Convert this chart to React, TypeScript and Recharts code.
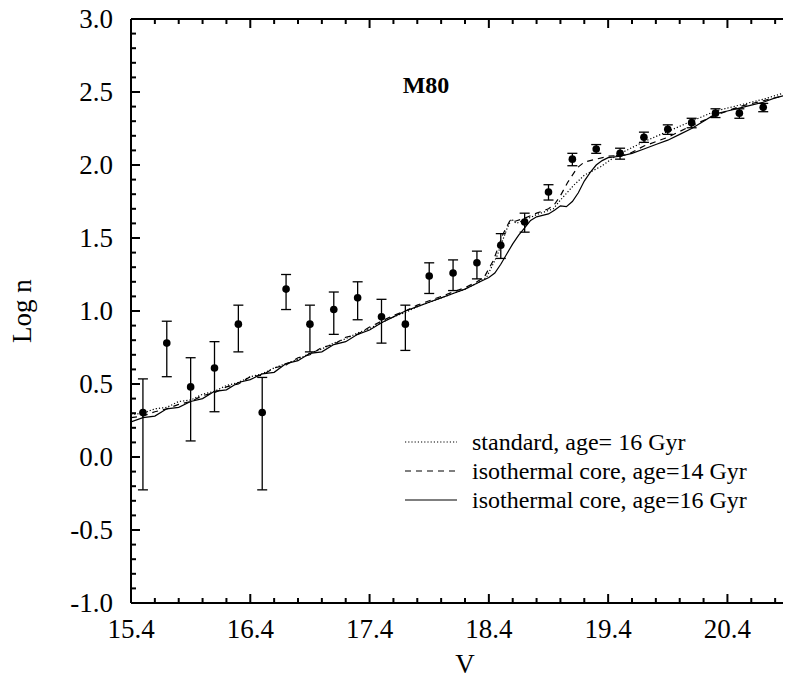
import React from 'react'
import { ComposedChart, Line, Scatter, ErrorBar, XAxis, YAxis, ReferenceLine } from 'recharts'

// model luminosity functions for M80 (V vs log n)
const standard16 = [
  { v: 15.4, y: 0.29 }, { v: 15.5, y: 0.30 }, { v: 15.6, y: 0.33 }, { v: 15.7, y: 0.34 }, { v: 15.8, y: 0.38 },
  { v: 15.9, y: 0.39 }, { v: 16.0, y: 0.43 }, { v: 16.1, y: 0.45 }, { v: 16.2, y: 0.49 }, { v: 16.3, y: 0.51 },
  { v: 16.4, y: 0.55 }, { v: 16.5, y: 0.57 }, { v: 16.6, y: 0.61 }, { v: 16.7, y: 0.64 }, { v: 16.8, y: 0.67 },
  { v: 16.9, y: 0.71 }, { v: 17.0, y: 0.74 }, { v: 17.1, y: 0.78 }, { v: 17.2, y: 0.81 }, { v: 17.3, y: 0.85 },
  { v: 17.4, y: 0.88 }, { v: 17.5, y: 0.92 }, { v: 17.6, y: 0.96 }, { v: 17.7, y: 0.99 }, { v: 17.8, y: 1.03 },
  { v: 17.9, y: 1.06 }, { v: 18.0, y: 1.09 }, { v: 18.1, y: 1.12 }, { v: 18.2, y: 1.15 }, { v: 18.3, y: 1.19 },
  { v: 18.38, y: 1.23 }, { v: 18.47, y: 1.38 }, { v: 18.55, y: 1.56 }, { v: 18.59, y: 1.63 }, { v: 18.63, y: 1.60 },
  { v: 18.72, y: 1.63 }, { v: 18.8, y: 1.66 }, { v: 18.94, y: 1.70 }, { v: 19.0, y: 1.76 }, { v: 19.11, y: 1.86 },
  { v: 19.2, y: 1.93 }, { v: 19.34, y: 1.99 }, { v: 19.48, y: 2.07 }, { v: 19.7, y: 2.16 }, { v: 19.9, y: 2.23 },
  { v: 20.1, y: 2.30 }, { v: 20.3, y: 2.37 }, { v: 20.5, y: 2.41 }, { v: 20.7, y: 2.45 }, { v: 20.9, y: 2.50 },
  { v: 21.0, y: 2.52 },
]

const isoCore14 = [
  { v: 15.4, y: 0.27 }, { v: 15.5, y: 0.28 }, { v: 15.6, y: 0.31 }, { v: 15.7, y: 0.33 }, { v: 15.8, y: 0.36 },
  { v: 15.9, y: 0.38 }, { v: 16.0, y: 0.42 }, { v: 16.1, y: 0.44 }, { v: 16.2, y: 0.48 }, { v: 16.3, y: 0.50 },
  { v: 16.4, y: 0.55 }, { v: 16.5, y: 0.56 }, { v: 16.6, y: 0.61 }, { v: 16.7, y: 0.63 }, { v: 16.8, y: 0.68 },
  { v: 16.9, y: 0.70 }, { v: 17.0, y: 0.75 }, { v: 17.1, y: 0.77 }, { v: 17.2, y: 0.82 }, { v: 17.3, y: 0.84 },
  { v: 17.4, y: 0.89 }, { v: 17.5, y: 0.93 }, { v: 17.6, y: 0.97 }, { v: 17.7, y: 1.00 }, { v: 17.8, y: 1.04 },
  { v: 17.9, y: 1.07 }, { v: 18.0, y: 1.10 }, { v: 18.1, y: 1.13 }, { v: 18.2, y: 1.16 }, { v: 18.3, y: 1.20 },
  { v: 18.36, y: 1.23 }, { v: 18.44, y: 1.35 }, { v: 18.52, y: 1.53 }, { v: 18.58, y: 1.625 }, { v: 18.62, y: 1.615 },
  { v: 18.7, y: 1.635 }, { v: 18.8, y: 1.67 }, { v: 18.9, y: 1.70 }, { v: 18.95, y: 1.73 }, { v: 19.0, y: 1.79 },
  { v: 19.06, y: 1.88 }, { v: 19.14, y: 1.98 }, { v: 19.2, y: 2.02 }, { v: 19.3, y: 2.04 }, { v: 19.4, y: 2.06 },
  { v: 19.56, y: 2.07 }, { v: 19.7, y: 2.13 }, { v: 19.9, y: 2.19 }, { v: 20.1, y: 2.27 }, { v: 20.3, y: 2.34 },
  { v: 20.5, y: 2.40 }, { v: 20.7, y: 2.44 }, { v: 20.9, y: 2.48 }, { v: 21.0, y: 2.50 },
]

const isoCore16 = [
  { v: 15.4, y: 0.24 }, { v: 15.5, y: 0.27 }, { v: 15.6, y: 0.28 }, { v: 15.7, y: 0.33 }, { v: 15.8, y: 0.34 },
  { v: 15.9, y: 0.38 }, { v: 16.0, y: 0.40 }, { v: 16.1, y: 0.45 }, { v: 16.2, y: 0.46 }, { v: 16.3, y: 0.51 },
  { v: 16.4, y: 0.53 }, { v: 16.5, y: 0.57 }, { v: 16.6, y: 0.58 }, { v: 16.7, y: 0.64 }, { v: 16.8, y: 0.66 },
  { v: 16.9, y: 0.71 }, { v: 17.0, y: 0.72 }, { v: 17.1, y: 0.77 }, { v: 17.2, y: 0.79 }, { v: 17.3, y: 0.84 },
  { v: 17.4, y: 0.87 }, { v: 17.5, y: 0.92 }, { v: 17.6, y: 0.96 }, { v: 17.7, y: 1.00 }, { v: 17.8, y: 1.03 },
  { v: 17.9, y: 1.06 }, { v: 18.0, y: 1.09 }, { v: 18.1, y: 1.12 }, { v: 18.2, y: 1.15 }, { v: 18.3, y: 1.19 },
  { v: 18.4, y: 1.23 }, { v: 18.45, y: 1.26 }, { v: 18.5, y: 1.32 }, { v: 18.55, y: 1.39 }, { v: 18.6, y: 1.46 },
  { v: 18.65, y: 1.52 }, { v: 18.7, y: 1.57 }, { v: 18.75, y: 1.62 }, { v: 18.8, y: 1.645 }, { v: 18.85, y: 1.655 },
  { v: 18.9, y: 1.665 }, { v: 18.95, y: 1.69 }, { v: 19.0, y: 1.72 }, { v: 19.05, y: 1.715 }, { v: 19.1, y: 1.75 },
  { v: 19.15, y: 1.81 }, { v: 19.2, y: 1.89 }, { v: 19.25, y: 1.95 }, { v: 19.3, y: 2.00 }, { v: 19.35, y: 2.03 },
  { v: 19.4, y: 2.05 }, { v: 19.5, y: 2.06 }, { v: 19.6, y: 2.08 }, { v: 19.7, y: 2.11 }, { v: 19.8, y: 2.14 },
  { v: 19.9, y: 2.17 }, { v: 20.0, y: 2.21 }, { v: 20.1, y: 2.25 }, { v: 20.2, y: 2.30 }, { v: 20.3, y: 2.35 },
  { v: 20.4, y: 2.37 }, { v: 20.5, y: 2.39 }, { v: 20.6, y: 2.41 }, { v: 20.7, y: 2.43 }, { v: 20.8, y: 2.46 },
  { v: 20.9, y: 2.48 }, { v: 21.0, y: 2.50 },
]

// observed counts, err = [below, above]
const observed = [
  { v: 15.5, y: 0.305, err: [0.53, 0.23] },
  { v: 15.7, y: 0.78, err: [0.23, 0.15] },
  { v: 15.9, y: 0.48, err: [0.37, 0.2] },
  { v: 16.1, y: 0.61, err: [0.3, 0.18] },
  { v: 16.3, y: 0.91, err: [0.19, 0.13] },
  { v: 16.5, y: 0.305, err: [0.53, 0.24] },
  { v: 16.7, y: 1.15, err: [0.14, 0.1] },
  { v: 16.9, y: 0.91, err: [0.19, 0.13] },
  { v: 17.1, y: 1.01, err: [0.17, 0.12] },
  { v: 17.3, y: 1.09, err: [0.15, 0.11] },
  { v: 17.5, y: 0.96, err: [0.18, 0.12] },
  { v: 17.7, y: 0.91, err: [0.18, 0.13] },
  { v: 17.9, y: 1.24, err: [0.12, 0.09] },
  { v: 18.1, y: 1.26, err: [0.12, 0.09] },
  { v: 18.3, y: 1.33, err: [0.11, 0.08] },
  { v: 18.5, y: 1.45, err: [0.09, 0.08] },
  { v: 18.7, y: 1.61, err: [0.07, 0.06] },
  { v: 18.9, y: 1.815, err: [0.055, 0.05] },
  { v: 19.1, y: 2.04, err: [0.045, 0.04] },
  { v: 19.3, y: 2.11, err: [0.03, 0.03] },
  { v: 19.5, y: 2.08, err: [0.04, 0.035] },
  { v: 19.7, y: 2.19, err: [0.035, 0.035] },
  { v: 19.9, y: 2.245, err: [0.035, 0.03] },
  { v: 20.1, y: 2.29, err: [0.035, 0.03] },
  { v: 20.3, y: 2.355, err: [0.03, 0.03] },
  { v: 20.5, y: 2.355, err: [0.035, 0.03] },
  { v: 20.7, y: 2.395, err: [0.03, 0.027] },
]

const xTicks = [
  15.4, 15.6, 15.8, 16.0, 16.2, 16.4, 16.6, 16.8, 17.0, 17.2, 17.4, 17.6, 17.8, 18.0, 18.2,
  18.4, 18.6, 18.8, 19.0, 19.2, 19.4, 19.6, 19.8, 20.0, 20.2, 20.4, 20.6, 20.8, 21.0,
]
const xLabels = [15.4, 16.4, 17.4, 18.4, 19.4, 20.4]

const yTicks = [
  -1.0, -0.9, -0.8, -0.7, -0.6, -0.5, -0.4, -0.3, -0.2, -0.1,
  0.0, 0.1, 0.2, 0.3, 0.4, 0.5, 0.6, 0.7, 0.8, 0.9,
  1.0, 1.1, 1.2, 1.3, 1.4, 1.5, 1.6, 1.7, 1.8, 1.9,
  2.0, 2.1, 2.2, 2.3, 2.4, 2.5, 2.6, 2.7, 2.8, 2.9, 3.0,
]
const yLabels = [-1.0, -0.5, 0.0, 0.5, 1.0, 1.5, 2.0, 2.5, 3.0]

const legendItems = [
  { label: 'standard, age= 16 Gyr', dash: '1.2 2' },
  { label: 'isothermal core, age=14 Gyr', dash: '6 5' },
  { label: 'isothermal core, age=16 Gyr', dash: undefined },
]

const W = 800
const H = 669
const TOP = 11
const RIGHT = 9
const LEFT = 123
const XH = 74
const PLOT_LEFT = LEFT
const PLOT_RIGHT = W - RIGHT
const PLOT_TOP = TOP
const PLOT_BOTTOM = H - XH

const FONT = '"Liberation Serif", "DejaVu Serif", serif'

const near = (v: number, list: number[]) => list.some((m) => Math.abs(m - v) < 1e-6)

function XTick(props: any) {
  const { x, payload } = props
  const major = near(payload.value, xLabels)
  const len = major ? 9 : 5
  return (
    <g>
      <line x1={x} x2={x} y1={PLOT_BOTTOM} y2={PLOT_BOTTOM - len} stroke="#000" strokeWidth={2} />
      <line x1={x} x2={x} y1={PLOT_TOP} y2={PLOT_TOP + len} stroke="#000" strokeWidth={2} />
      {major && (
        <text x={x} y={PLOT_BOTTOM + 35} textAnchor="middle" fontSize={27} fontFamily={FONT} fill="#000">
          {payload.value.toFixed(1)}
        </text>
      )}
    </g>
  )
}

function YTick(props: any) {
  const { y, payload } = props
  const major = near(payload.value, yLabels)
  const len = major ? 9 : 5
  return (
    <g>
      <line x1={PLOT_LEFT} x2={PLOT_LEFT + len} y1={y} y2={y} stroke="#000" strokeWidth={2} />
      <line x1={PLOT_RIGHT} x2={PLOT_RIGHT - len} y1={y} y2={y} stroke="#000" strokeWidth={2} />
      {major && (
        <text x={PLOT_LEFT - 18} y={y + 9} textAnchor="end" fontSize={27} fontFamily={FONT} fill="#000">
          {payload.value.toFixed(1)}
        </text>
      )}
    </g>
  )
}

const Dot = (p: any) => <circle cx={p.cx} cy={p.cy} r={3.8} fill="#000" />

export default function App() {
  return (
    <div style={{ width: 783, height: H, overflow: 'hidden' }}>
      <ComposedChart width={W} height={H} margin={{ top: TOP, right: RIGHT, bottom: 0, left: 0 }}
        style={{ overflow: 'visible' }}>
        <XAxis
          dataKey="v"
          type="number"
          domain={[15.4, 21.0]}
          ticks={xTicks}
          interval={0}
          allowDataOverflow
          height={XH}
          tickLine={false}
          axisLine={{ stroke: '#000', strokeWidth: 2 }}
          tick={(p: any) => <XTick {...p} />}
        />
        <YAxis
          type="number"
          domain={[-1, 3]}
          ticks={yTicks}
          interval={0}
          allowDataOverflow
          width={LEFT}
          tickLine={false}
          axisLine={{ stroke: '#000', strokeWidth: 2 }}
          tick={(p: any) => <YTick {...p} />}
        />
        <ReferenceLine y={3} stroke="#000" strokeWidth={2} ifOverflow="visible" />
        <ReferenceLine x={21} stroke="#000" strokeWidth={2} ifOverflow="visible" />

        <Line data={standard16} dataKey="y" type="linear" dot={false} stroke="#000" strokeWidth={1.2}
          strokeDasharray="1.2 2" isAnimationActive={false} />
        <Line data={isoCore14} dataKey="y" type="linear" dot={false} stroke="#000" strokeWidth={1.2}
          strokeDasharray="6 5" isAnimationActive={false} />
        <Line data={isoCore16} dataKey="y" type="linear" dot={false} stroke="#000" strokeWidth={1.2}
          isAnimationActive={false} />

        <Scatter data={observed} dataKey="y" shape={Dot} isAnimationActive={false}>
          <ErrorBar dataKey="err" direction="y" width={5} stroke="#000" strokeWidth={1.3} />
        </Scatter>

        <g transform="translate(397, 422)">
          {legendItems.map((it, i) => {
            const cy = 12 + i * 29
            return (
              <g key={it.label}>
                <line x1={0} x2={52} y1={cy} y2={cy} stroke="#000" strokeWidth={1.2} strokeDasharray={it.dash} />
                <text x={67} y={cy + 8} fontSize={24} fontFamily={FONT} fill="#000">
                  {it.label}
                </text>
              </g>
            )
          })}
        </g>

        <text x={(PLOT_LEFT + PLOT_RIGHT) / 2} y={H - 4} textAnchor="middle" fontSize={27} fontFamily={FONT}>
          V
        </text>
        <text
          x={0}
          y={0}
          transform={`translate(23, ${(PLOT_TOP + PLOT_BOTTOM) / 2}) rotate(-90)`}
          textAnchor="middle"
          fontSize={27}
          fontFamily={FONT}
        >
          Log n
        </text>
        <text x={418} y={85} textAnchor="middle" fontSize={24} fontWeight="bold" fontFamily={FONT}>
          M80
        </text>
      </ComposedChart>
    </div>
  )
}
